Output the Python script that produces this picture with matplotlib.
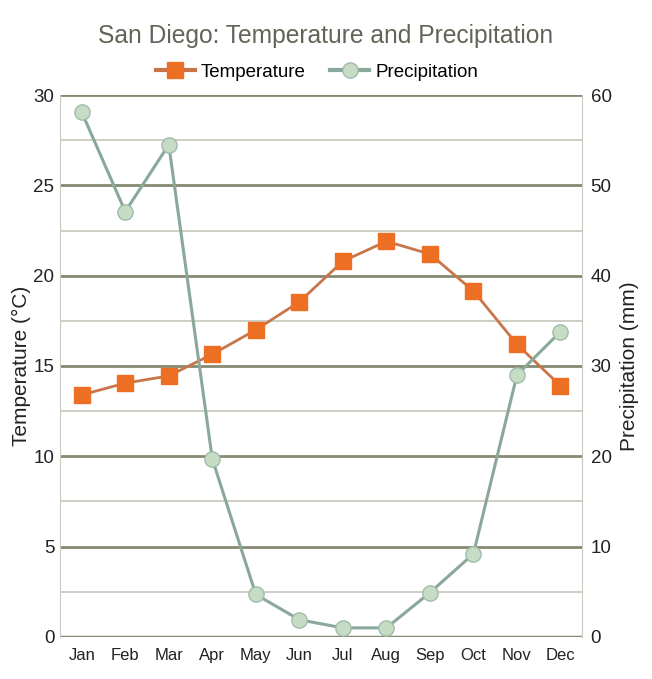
import numpy as np
import matplotlib.pyplot as plt
from matplotlib.lines import Line2D

plt.rcParams['font.family'] = ['Liberation Sans', 'DejaVu Sans']

months = ['Jan', 'Feb', 'Mar', 'Apr', 'May', 'Jun', 'Jul', 'Aug', 'Sep', 'Oct', 'Nov', 'Dec']
temperature = [13.4, 14.05, 14.45, 15.65, 17.0, 18.55, 20.8, 21.9, 21.2, 19.15, 16.2, 13.9]
precipitation = [58.1, 47.1, 54.5, 19.7, 4.7, 1.9, 1.0, 1.0, 4.9, 9.2, 29.0, 33.8]

temp_line = '#c8754a'
temp_mark = '#ec6f24'
prec_line = '#89a89b'
prec_mark = '#c6dcc4'
prec_edge = '#9fbcaa'

fig = plt.figure(figsize=(6.52, 6.79), dpi=100)
ax = fig.add_axes([0.092, 0.062, 0.801, 0.798])
ax2 = ax.twinx()

x = np.arange(len(months))

# grid lines (major dark, minor light)
for v in np.arange(2.5, 30, 5):
    ax.axhline(v, color='#c9cbbf', lw=1.3, zorder=0)
for v in np.arange(5, 30.1, 5):
    ax.axhline(v, color='#858a72', lw=2.0, zorder=0)
ax.axhline(0, color='#858a72', lw=2.5, zorder=0)

ax.plot(x, temperature, color=temp_line, lw=2, marker='s', ms=11,
        mfc=temp_mark, mec=temp_mark, zorder=3)
ax2.plot(x, precipitation, color=prec_line, lw=2.2, marker='o', ms=11,
         mfc=prec_mark, mec=prec_edge, mew=1, zorder=3)

ax.set_xlim(-0.5, 11.5)
ax.set_ylim(0, 30)
ax2.set_ylim(0, 60)
ax.set_yticks(np.arange(0, 31, 5))
ax2.set_yticks(np.arange(0, 61, 10))
ax.set_xticks(x)
ax.set_xticklabels(months)

for a in (ax, ax2):
    for s in a.spines.values():
        s.set_visible(False)
    a.tick_params(length=0, labelsize=13.5, colors='#222222')
ax.tick_params(axis='x', labelsize=12, pad=8)
ax.tick_params(axis='y', pad=4)
ax2.tick_params(axis='y', pad=6)
ax.spines['left'].set_visible(True)
ax.spines['left'].set_color('#c9cbbf')
ax2.spines['right'].set_visible(True)
ax2.spines['right'].set_color('#c9cbbf')

ax.set_ylabel('Temperature (°C)', fontsize=15, color='#222222', labelpad=2)
ax2.set_ylabel('Precipitation (mm)', fontsize=15, color='#222222', labelpad=6)

fig.suptitle('San Diego: Temperature and Precipitation', y=0.965,
             fontsize=17.7, color='#5f6658')

handles = [
    Line2D([], [], color=temp_line, lw=3, marker='s', ms=11, mfc=temp_mark, mec=temp_mark),
    Line2D([], [], color=prec_line, lw=3, marker='o', ms=11, mfc=prec_mark, mec=prec_edge),
]
fig.legend(handles, ['Temperature', 'Precipitation'], loc='center',
           bbox_to_anchor=(0.486, 0.894), ncol=2, frameon=False, fontsize=13.5,
           handlelength=2.1, handletextpad=0.3, columnspacing=1.3)

fig.savefig('out.png', dpi=100)
